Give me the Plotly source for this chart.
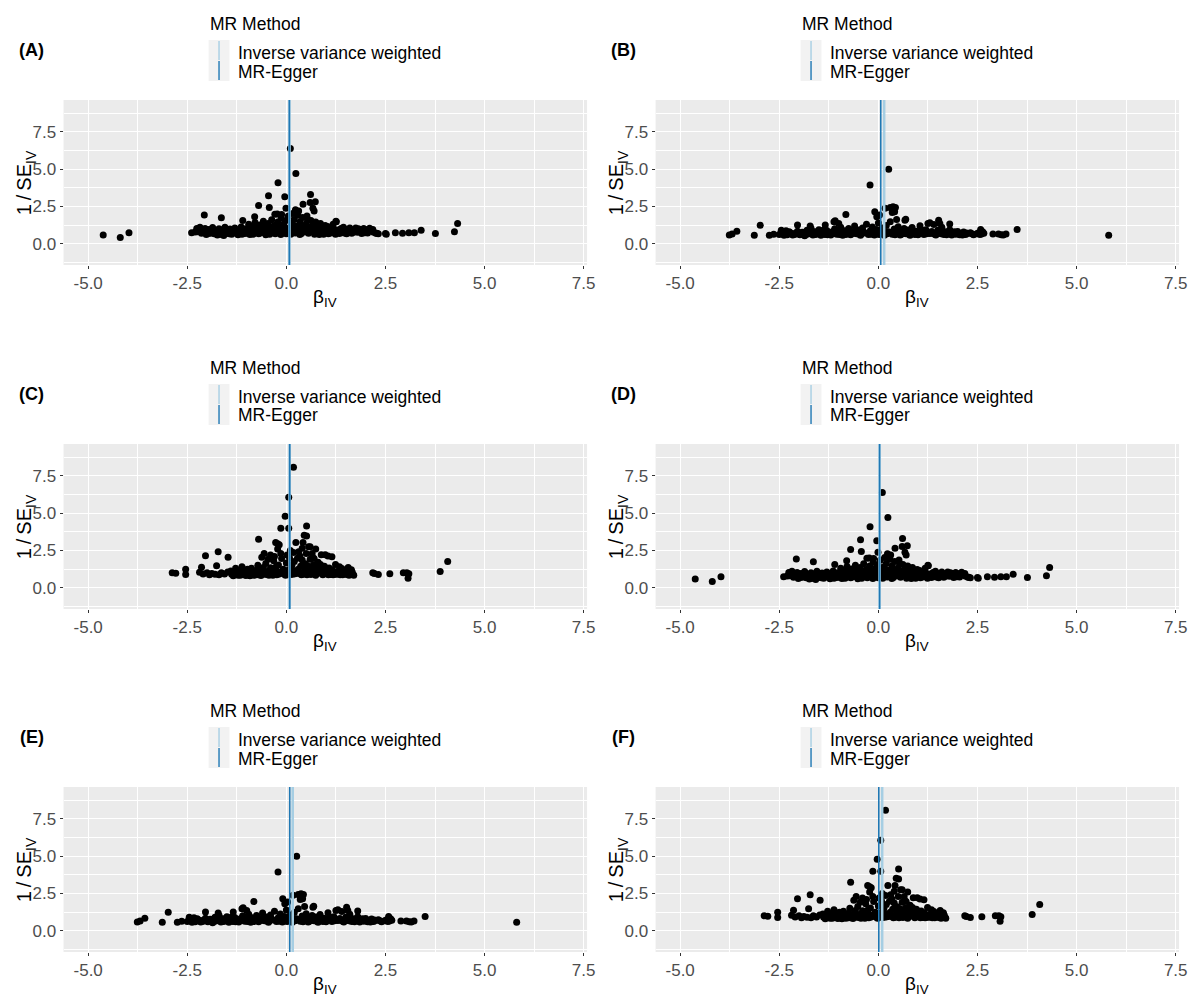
import plotly.graph_objects as go

# ---------------- data ----------------
# dataset shown in panels A and D: (beta_IV, 1/SE_IV)
ds1_points = [
    (-4.62, 0.58), (-4.19, 0.42), (-3.97, 0.74), (-2.39, 0.74), (-2.24, 0.80), (-2.07, 1.92),
    (-1.64, 1.74), (-0.45, 3.21), (-0.43, 2.43), (-0.70, 2.57), (-0.21, 4.08), (-0.04, 3.15),
    (-0.01, 2.37), (0.10, 6.38), (0.24, 4.71), (0.61, 3.30), (0.73, 2.81), (0.60, 2.77),
    (0.42, 2.65), (0.67, 2.37), (0.16, 2.03), (0.31, 2.20), (-0.23, 2.00), (-0.12, 1.95),
    (0.52, 1.85), (0.70, 2.20), (-0.80, 1.80), (-1.10, 1.55), (1.25, 1.50), (0.23, 2.27),
    (-0.29, 1.97), (3.40, 0.90), (3.76, 0.69), (4.32, 1.36), (4.24, 0.80), (2.50, 0.69),
    (2.52, 0.64), (2.75, 0.74), (2.93, 0.70), (3.09, 0.74), (3.23, 0.74), (2.28, 0.70),
    (-2.30, 0.78), (-2.22, 0.92), (-2.18, 1.10), (-2.14, 0.70), (-2.10, 0.85), (-2.05, 1.02),
    (-2.02, 0.62), (-1.98, 0.80), (-1.95, 0.95), (-1.90, 0.72), (-1.86, 1.08), (-1.82, 0.66),
    (-1.78, 0.88), (-1.74, 0.58), (-1.70, 1.00), (-1.66, 0.76), (-1.62, 0.92), (-1.58, 0.55),
    (-1.55, 1.10), (-1.50, 0.70), (-1.46, 0.84), (-1.42, 0.98), (-1.38, 0.64), (-1.34, 0.78),
    (-1.30, 1.05), (-1.26, 0.90), (-1.22, 0.60), (-1.18, 0.74), (-1.14, 1.12), (-1.10, 0.86),
    (-1.06, 0.68), (-1.02, 1.00), (-0.98, 0.80), (-0.95, 1.30), (-0.92, 0.62), (-0.88, 0.94),
    (-0.85, 1.15), (-0.82, 0.72), (-0.79, 1.42), (-0.76, 0.86), (-0.73, 1.05), (-0.70, 0.66),
    (-0.67, 1.25), (-0.64, 0.92), (-0.61, 0.76), (-0.58, 1.50), (-0.55, 1.10), (-0.52, 0.60),
    (-0.49, 0.88), (-0.46, 1.35), (-0.43, 0.74), (-0.40, 1.02), (-0.37, 1.60), (-0.34, 0.82),
    (-0.31, 1.20), (-0.28, 0.66), (-0.25, 0.96), (-0.22, 1.45), (-0.19, 0.78), (-0.16, 1.12),
    (-0.13, 1.70), (-0.10, 0.70), (-0.07, 1.30), (-0.04, 0.90), (-0.01, 1.55), (0.02, 0.76),
    (0.05, 1.85), (0.08, 1.05), (0.11, 0.64), (0.14, 1.40), (0.17, 0.86), (0.20, 1.62),
    (0.23, 0.72), (0.26, 1.18), (0.29, 1.90), (0.32, 0.94), (0.35, 1.48), (0.38, 0.68),
    (0.41, 1.75), (0.44, 1.02), (0.47, 0.80), (0.50, 1.32), (0.53, 1.65), (0.56, 0.70),
    (0.59, 1.10), (0.62, 1.55), (0.65, 0.88), (0.68, 1.28), (0.71, 0.64), (0.74, 1.45),
    (0.77, 0.96), (0.80, 1.15), (0.83, 0.62), (0.86, 1.36), (0.89, 0.84), (0.92, 1.05),
    (0.95, 0.70), (0.98, 1.22), (1.02, 0.90), (1.06, 0.66), (1.10, 1.08), (1.14, 0.80),
    (1.18, 1.30), (1.22, 0.74), (1.26, 1.48), (1.30, 0.92), (1.34, 0.68), (1.38, 1.02),
    (1.42, 0.84), (1.46, 0.72), (1.50, 0.96), (1.55, 0.78), (1.60, 1.05), (1.65, 0.70),
    (1.70, 0.90), (1.75, 1.06), (1.80, 0.76), (1.85, 0.94), (1.90, 0.68), (1.95, 1.02),
    (2.00, 0.82), (2.05, 0.72), (2.10, 1.04), (2.15, 0.88), (2.20, 0.76), (2.26, 0.70),
    (2.32, 0.66),
    (-1.96, 0.68), (-1.88, 0.86), (-1.76, 0.74), (-1.64, 0.62), (-1.52, 0.90), (-1.44, 0.66),
    (-1.36, 0.94), (-1.28, 0.72), (-1.20, 0.86), (-1.12, 0.64), (-1.04, 0.78), (-0.96, 0.96),
    (-0.90, 0.74), (-0.84, 0.64), (-0.78, 0.92), (-0.72, 1.12), (-0.66, 0.72), (-0.60, 1.02),
    (-0.54, 0.82), (-0.48, 1.16), (-0.42, 0.64), (-0.36, 0.90), (-0.30, 1.06), (-0.24, 0.74),
    (-0.18, 0.98), (-0.12, 0.86), (-0.06, 1.12), (0.00, 0.66), (0.06, 0.94), (0.12, 1.20),
    (0.18, 0.74), (0.24, 1.00), (0.30, 0.78), (0.36, 1.14), (0.42, 0.86), (0.48, 1.06),
    (0.54, 0.76), (0.60, 0.96), (0.66, 1.06), (0.72, 0.82), (0.78, 0.72), (0.84, 1.00),
    (0.90, 0.76), (0.96, 0.88), (1.04, 1.16), (1.12, 0.72), (1.20, 0.98), (1.28, 0.80),
    (1.36, 0.86), (1.44, 1.10), (1.52, 0.66), (1.62, 0.84), (1.72, 0.78), (1.82, 1.00),
    (1.92, 0.84), (2.02, 0.94),
    (-2.26, 1.02), (-2.00, 0.92), (-1.84, 0.96), (-1.68, 0.84), (-1.48, 0.76), (-1.32, 0.88),
    (-1.16, 0.96), (-1.00, 0.70), (-0.86, 0.84), (-0.74, 0.78), (-0.62, 0.86), (-0.50, 0.72),
    (-0.38, 0.80), (-0.26, 1.26), (-0.14, 0.62), (-0.02, 1.00), (0.10, 0.84), (0.22, 0.90),
    (0.34, 0.62), (0.46, 0.92), (0.58, 0.82), (0.70, 1.00), (0.82, 0.90), (0.94, 0.64),
    (1.08, 0.94), (1.24, 0.64), (1.40, 0.76), (1.58, 0.92), (1.78, 0.88), (1.98, 0.74),
    (2.18, 0.96),
]

# dataset shown in panels B and E
ds2_points = [
    (-3.76, 0.58), (-3.69, 0.65), (-3.57, 0.83), (-3.13, 0.56), (-2.98, 1.23), (-2.75, 0.56),
    (-2.64, 0.63), (-2.45, 0.90), (-2.04, 1.25), (-1.72, 1.18), (-1.34, 1.25), (-1.12, 1.47),
    (-1.09, 1.54), (-1.00, 1.35), (-0.82, 1.96), (-0.21, 3.93), (-0.09, 2.15), (-0.04, 1.80),
    (0.03, 1.92), (0.17, 2.37), (0.26, 5.00), (0.30, 2.42), (0.37, 2.48), (0.43, 2.43),
    (0.33, 2.37), (0.41, 2.14), (0.35, 2.10), (0.46, 1.63), (0.67, 1.58), (0.69, 1.64),
    (1.52, 1.58), (1.55, 1.36), (1.80, 1.32), (1.30, 1.40), (2.58, 0.96), (2.60, 0.65),
    (2.63, 0.80), (2.89, 0.65), (3.03, 0.65), (3.15, 0.58), (3.22, 0.65), (3.10, 0.60),
    (3.50, 0.96), (5.81, 0.56),
    (-2.50, 0.62), (-2.44, 0.78), (-2.38, 0.56), (-2.33, 0.86), (-2.28, 0.66), (-2.22, 0.74),
    (-2.16, 0.58), (-2.10, 0.70), (-2.04, 0.84), (-1.98, 0.60), (-1.92, 0.76), (-1.86, 0.54),
    (-1.80, 0.90), (-1.75, 0.66), (-1.70, 1.04), (-1.65, 0.58), (-1.60, 0.80), (-1.55, 0.68),
    (-1.50, 0.94), (-1.45, 0.56), (-1.40, 0.74), (-1.35, 0.62), (-1.30, 0.88), (-1.25, 0.70),
    (-1.20, 0.58), (-1.15, 0.82), (-1.10, 1.00), (-1.05, 0.64), (-1.00, 0.76), (-0.95, 1.10),
    (-0.90, 0.56), (-0.85, 0.86), (-0.80, 0.70), (-0.75, 1.02), (-0.70, 0.60), (-0.65, 0.80),
    (-0.60, 1.18), (-0.55, 0.66), (-0.50, 0.92), (-0.45, 0.56), (-0.40, 1.06), (-0.35, 0.74),
    (-0.30, 1.30), (-0.25, 0.62), (-0.20, 0.88), (-0.15, 1.12), (-0.10, 0.58), (-0.05, 0.96),
    (0.00, 1.38), (0.05, 0.70), (0.10, 1.05), (0.15, 0.56), (0.20, 1.22), (0.25, 0.80),
    (0.30, 1.48), (0.35, 0.64), (0.40, 0.98), (0.45, 0.74), (0.50, 1.14), (0.55, 0.58),
    (0.60, 0.86), (0.65, 1.02), (0.70, 0.66), (0.75, 0.92), (0.80, 0.56), (0.85, 1.08),
    (0.90, 0.72), (0.95, 0.84), (1.00, 0.60), (1.05, 1.20), (1.10, 0.76), (1.15, 0.62),
    (1.20, 0.94), (1.25, 1.36), (1.30, 0.68), (1.35, 0.82), (1.40, 1.28), (1.45, 0.58),
    (1.50, 0.90), (1.55, 0.72), (1.60, 1.10), (1.65, 0.62), (1.70, 0.80), (1.75, 0.66),
    (1.80, 0.94), (1.85, 0.58), (1.90, 0.74), (1.95, 0.64), (2.00, 0.82), (2.05, 0.60),
    (2.10, 0.70), (2.15, 0.78), (2.20, 0.62), (2.25, 0.68), (2.32, 0.74), (2.40, 0.60),
    (2.48, 0.66), (2.56, 0.62), (2.62, 0.76), (2.66, 0.70),
    (-2.46, 0.68), (-2.35, 0.64), (-2.25, 0.80), (-2.12, 0.62), (-2.00, 0.72), (-1.90, 0.64),
    (-1.78, 0.70), (-1.68, 0.84), (-1.58, 0.62), (-1.48, 0.78), (-1.38, 0.92), (-1.28, 0.60),
    (-1.18, 0.72), (-1.08, 0.80), (-0.98, 0.62), (-0.88, 0.74), (-0.78, 0.84), (-0.68, 0.68),
    (-0.58, 0.76), (-0.48, 0.64), (-0.38, 0.82), (-0.28, 0.70), (-0.18, 0.64), (-0.08, 0.78),
    (0.02, 0.62), (0.12, 0.82), (0.22, 0.66), (0.32, 0.76), (0.42, 0.60), (0.52, 0.80),
    (0.62, 0.68), (0.72, 0.78), (0.82, 0.70), (0.92, 0.62), (1.02, 0.78), (1.12, 0.90),
    (1.22, 0.66), (1.32, 0.74), (1.42, 0.64), (1.52, 0.78), (1.62, 0.70), (1.72, 0.60),
    (1.82, 0.70), (1.92, 0.80), (2.02, 0.66), (2.12, 0.58), (2.22, 0.72), (2.36, 0.66),
    (2.52, 0.72),
    (-2.30, 0.60), (-2.06, 0.66), (-1.82, 0.62), (-1.62, 0.72), (-1.42, 0.66), (-1.22, 0.64),
    (-1.02, 0.70), (-0.82, 0.62), (-0.62, 0.70), (-0.42, 0.66), (-0.22, 0.74), (-0.02, 0.66),
    (0.18, 0.72), (0.38, 0.70), (0.58, 0.64), (0.78, 0.62), (0.98, 0.70), (1.18, 0.74),
    (1.38, 0.70), (1.58, 0.66), (1.78, 0.74), (1.98, 0.70), (2.18, 0.66),
]

# dataset shown in panels C and F
ds3_points = [
    (-2.88, 1.00), (-2.79, 0.97), (-2.54, 1.24), (-2.54, 0.88), (-2.14, 1.37), (-2.19, 1.04),
    (-2.04, 2.15), (-1.76, 1.48), (-1.72, 2.41), (-1.47, 2.04), (-0.70, 3.25), (-0.56, 2.30),
    (-0.27, 3.03), (-0.18, 2.88), (-0.22, 2.95), (-0.14, 3.98), (-0.03, 4.80), (0.06, 6.06),
    (0.06, 3.98), (0.18, 8.08), (0.24, 3.03), (0.42, 3.03), (0.45, 3.52), (0.51, 3.47),
    (0.51, 4.14), (0.40, 2.65), (0.31, 2.41), (0.60, 2.74), (0.88, 2.21), (0.98, 2.21),
    (1.05, 2.12), (1.15, 2.08), (2.18, 1.00), (2.32, 0.88), (2.22, 0.95), (2.61, 0.93),
    (2.95, 1.00), (3.04, 1.00), (3.07, 0.64), (3.09, 0.93), (3.88, 1.08), (4.07, 1.75),
    (-0.62, 2.05), (-0.40, 2.20), (0.65, 2.30), (0.70, 1.95),
    (-2.10, 0.92), (-2.00, 1.00), (-1.94, 0.86), (-1.88, 0.96), (-1.80, 0.90), (-1.70, 0.86),
    (-1.64, 1.00), (-1.56, 0.92), (-1.48, 1.06), (-1.40, 1.12), (-1.34, 0.80), (-1.28, 1.30),
    (-1.24, 0.92), (-1.20, 1.04), (-1.16, 0.84), (-1.12, 1.40), (-1.08, 0.96), (-1.04, 1.18),
    (-1.00, 0.88), (-0.96, 1.06), (-0.92, 0.80), (-0.88, 1.30), (-0.84, 0.94), (-0.80, 1.12),
    (-0.76, 0.86), (-0.72, 1.50), (-0.68, 1.02), (-0.64, 0.82), (-0.60, 1.22), (-0.56, 0.92),
    (-0.52, 1.62), (-0.48, 1.08), (-0.44, 0.84), (-0.40, 1.34), (-0.36, 0.96), (-0.32, 1.80),
    (-0.28, 1.14), (-0.24, 0.86), (-0.20, 1.52), (-0.16, 1.00), (-0.12, 1.95), (-0.08, 1.24),
    (-0.04, 0.88), (0.00, 1.66), (0.04, 1.06), (0.08, 2.00), (0.12, 1.30), (0.16, 0.90),
    (0.20, 1.75), (0.24, 1.12), (0.28, 1.98), (0.32, 0.96), (0.36, 1.44), (0.40, 1.85),
    (0.44, 1.02), (0.48, 1.60), (0.52, 0.86), (0.56, 1.30), (0.60, 1.90), (0.64, 1.08),
    (0.68, 1.52), (0.72, 0.92), (0.76, 1.36), (0.80, 1.70), (0.84, 1.00), (0.88, 1.24),
    (0.92, 0.86), (0.96, 1.44), (1.00, 1.08), (1.04, 0.94), (1.08, 1.32), (1.12, 0.88),
    (1.16, 1.20), (1.20, 1.00), (1.24, 1.56), (1.28, 0.90), (1.32, 1.12), (1.36, 0.86),
    (1.40, 1.28), (1.44, 0.98), (1.48, 1.10), (1.52, 0.88), (1.56, 1.36), (1.60, 0.96),
    (1.64, 1.20), (1.68, 0.90),
    (-1.38, 0.90), (-1.30, 1.00), (-1.22, 0.84), (-1.14, 1.10), (-1.06, 0.86), (-0.98, 1.24),
    (-0.90, 1.00), (-0.82, 0.84), (-0.74, 1.16), (-0.66, 0.92), (-0.58, 1.36), (-0.50, 0.88),
    (-0.42, 1.10), (-0.34, 0.84), (-0.26, 1.40), (-0.18, 0.92), (-0.10, 1.10), (-0.02, 0.84),
    (0.06, 1.20), (0.14, 1.50), (0.22, 0.94), (0.30, 1.24), (0.38, 0.86), (0.46, 1.20),
    (0.54, 1.46), (0.62, 0.88), (0.70, 1.16), (0.78, 0.96), (0.86, 1.56), (0.94, 1.04),
    (1.02, 1.22), (1.10, 0.98), (1.18, 0.86), (1.26, 1.06), (1.34, 1.40), (1.42, 0.86),
    (1.50, 1.00), (1.58, 0.84), (1.66, 1.06),
    (-1.32, 0.86), (-1.18, 0.98), (-1.02, 0.82), (-0.86, 1.06), (-0.70, 0.86), (-0.54, 1.00),
    (-0.38, 0.88), (-0.22, 1.06), (-0.06, 0.96), (0.10, 0.88), (0.26, 1.04), (0.42, 0.90),
    (0.58, 1.06), (0.74, 0.84), (0.90, 1.10), (1.06, 0.86), (1.22, 0.90), (1.38, 1.02),
    (1.54, 0.94), (1.70, 0.84),
    (-0.30, 2.10), (-0.14, 2.30), (0.02, 2.20), (0.18, 2.36), (0.34, 2.12), (0.50, 2.30),
    (0.66, 2.05), (-0.46, 1.90), (0.74, 2.60), (0.10, 2.50), (-0.22, 2.60), (0.56, 2.75),
]

panel_labels = ["(A)", "(B)", "(C)", "(D)", "(E)", "(F)"]
panel_dataset = [ds1_points, ds2_points, ds3_points, ds1_points, ds2_points, ds3_points]
ivw_beta = [0.08, 0.145, 0.08, 0.03, 0.16, 0.095]
egger_beta = [0.075, 0.06, 0.085, 0.03, 0.085, 0.01]

legend_title = "MR Method"
methods = ["Inverse variance weighted", "MR-Egger"]
method_colors = ["#a6cee3", "#1f78b4"]

x_tickvals = [-5, -2.5, 0, 2.5, 5, 7.5]
x_ticktext = ["-5.0", "-2.5", "0.0", "2.5", "5.0", "7.5"]
x_minor = [-6.25, -3.75, -1.25, 1.25, 3.75, 6.25]
y_tickvals = [0, 2.5, 5, 7.5]
y_ticktext = ["0.0", "2.5", "5.0", "7.5"]
y_minor = [-1.25, 1.25, 3.75, 6.25, 8.75]
x_title = "β<sub>IV</sub>"
y_title = "1\u2009/\u2009SE<sub>IV</sub>"

# ---------------- layout geometry (pixels) ----------------
W, H = 1196, 997
col_left = [64, 660]
row_top = [100, 444, 787]
PW, PH = 527, 165
XR = [-5.62, 7.585]
YR = [-1.43, 9.64]
FONT = "Liberation Sans, Arial, Helvetica, sans-serif"


def fx(px):
    return px / W


def fy(py):
    return 1 - py / H


fig = go.Figure()
layout = dict(
    width=W, height=H, margin=dict(l=0, r=0, t=0, b=0), autosize=False,
    paper_bgcolor="white", plot_bgcolor="#EBEBEB", showlegend=False,
    font=dict(family=FONT, color="black"),
)
shapes = []
annotations = []

for i in range(6):
    r, c = divmod(i, 2)
    k = i + 1
    xa = "x" if k == 1 else f"x{k}"
    ya = "y" if k == 1 else f"y{k}"
    left, top = col_left[c], row_top[r]
    pts = panel_dataset[i]
    bx = [p[0] for p in pts]
    by = [p[1] for p in pts]

    layout["xaxis" if k == 1 else f"xaxis{k}"] = dict(
        domain=[fx(left), fx(left + PW)], range=XR, anchor=ya,
        tickmode="array", tickvals=x_tickvals, ticktext=x_ticktext,
        ticks="outside", ticklen=3, tickwidth=1, tickcolor="#333333",
        tickfont=dict(size=17, color="#4D4D4D", family=FONT),
        showgrid=True, gridcolor="white", gridwidth=1.2, zeroline=False, showline=False,
        minor=dict(tickmode="array", tickvals=x_minor, showgrid=True,
                   gridcolor="white", gridwidth=0.6, ticks=""),
        fixedrange=True,
    )
    layout["yaxis" if k == 1 else f"yaxis{k}"] = dict(
        domain=[fy(top + PH), fy(top)], range=YR, anchor=xa,
        tickmode="array", tickvals=y_tickvals, ticktext=y_ticktext,
        ticks="outside", ticklen=3, tickwidth=1, tickcolor="#333333",
        tickfont=dict(size=17, color="#4D4D4D", family=FONT),
        showgrid=True, gridcolor="white", gridwidth=1.2, zeroline=False, showline=False,
        minor=dict(tickmode="array", tickvals=y_minor, showgrid=True,
                   gridcolor="white", gridwidth=0.6, ticks=""),
        fixedrange=True,
    )

    # estimate lines (IVW underneath, Egger on top)
    shapes.append(dict(type="line", xref=xa, yref=f"{ya} domain", x0=ivw_beta[i], x1=ivw_beta[i],
                       y0=0, y1=1, line=dict(color=method_colors[0], width=2.6), layer="above"))
    shapes.append(dict(type="line", xref=xa, yref=f"{ya} domain", x0=egger_beta[i], x1=egger_beta[i],
                       y0=0, y1=1, line=dict(color=method_colors[1], width=1.6), layer="above"))

    fig.add_trace(go.Scatter(
        x=bx, y=by, mode="markers", xaxis=xa, yaxis=ya,
        marker=dict(color="black", size=7, line=dict(width=0)),
        hoverinfo="x+y",
    ))

    # legend (drawn manually, ggplot style)
    kx0, kx1 = left + 146, left + 167
    shapes.append(dict(type="rect", xref="paper", yref="paper",
                       x0=fx(kx0), x1=fx(kx1), y0=fy(top - 19), y1=fy(top - 60),
                       fillcolor="#F2F2F2", line=dict(width=0), layer="below"))
    kxm = left + 156.5
    shapes.append(dict(type="line", xref="paper", yref="paper", x0=fx(kxm), x1=fx(kxm),
                       y0=fy(top - 59), y1=fy(top - 40),
                       line=dict(color=method_colors[0], width=1.4)))
    shapes.append(dict(type="line", xref="paper", yref="paper", x0=fx(kxm), x1=fx(kxm),
                       y0=fy(top - 39), y1=fy(top - 20),
                       line=dict(color=method_colors[1], width=1.4)))
    annotations.append(dict(text=legend_title, x=fx(left + 145), y=fy(top - 76), xref="paper",
                            yref="paper", xanchor="left", yanchor="middle", showarrow=False,
                            font=dict(size=17.5, color="black", family=FONT)))
    for j, m in enumerate(methods):
        annotations.append(dict(text=m, x=fx(left + 174), y=fy(top - 47.5 + 19 * j), xref="paper",
                                yref="paper", xanchor="left", yanchor="middle", showarrow=False,
                                font=dict(size=17.5, color="black", family=FONT)))
    # panel tag
    annotations.append(dict(text="<b>" + panel_labels[i] + "</b>", x=fx(left - 32), y=fy(top - 50),
                            xref="paper", yref="paper", xanchor="center", yanchor="middle",
                            showarrow=False, font=dict(size=18, color="black", family=FONT)))
    # axis titles
    annotations.append(dict(text=y_title, x=fx(left - 38), y=fy(top + PH / 2), xref="paper",
                            yref="paper", xanchor="center", yanchor="middle", textangle=-90,
                            showarrow=False, font=dict(size=20, color="black", family=FONT)))
    annotations.append(dict(text=x_title, x=fx(left + PW / 2), y=fy(top + PH + 33), xref="paper",
                            yref="paper", xanchor="center", yanchor="middle",
                            showarrow=False, font=dict(size=19, color="black", family=FONT)))

layout["shapes"] = shapes
layout["annotations"] = annotations
fig.update_layout(**layout)
fig.write_html(
    "out.html",
    config={"displayModeBar": False},
    post_script="document.body.style.margin='0px';document.body.style.overflow='hidden';",
)
